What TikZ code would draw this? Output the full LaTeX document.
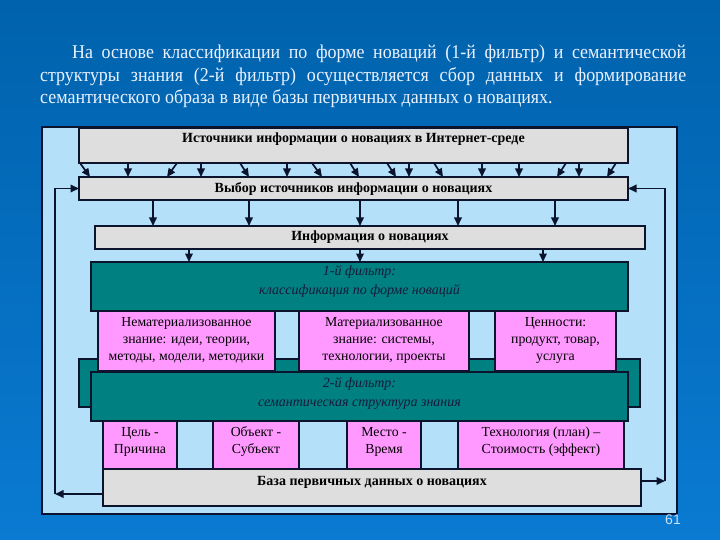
\documentclass[tikz,border=0pt]{standalone}
\usepackage{fontspec}
\setmainfont{Liberation Serif}
\newfontfamily\titlefont[FakeStretch=0.92]{Liberation Serif}
\newfontfamily\numfont{Liberation Sans}
\usetikzlibrary{arrows.meta}
\definecolor{bgtop}{RGB}{0,98,172}
\definecolor{bgbot}{RGB}{10,122,210}
\definecolor{panelblue}{RGB}{180,224,250}
\definecolor{tealc}{RGB}{0,128,128}
\definecolor{pinkc}{RGB}{255,153,255}
\definecolor{grayc}{RGB}{222,222,222}
\definecolor{edgec}{RGB}{12,20,45}
\definecolor{titlec}{RGB}{235,242,255}
\definecolor{numc}{RGB}{200,225,250}
\definecolor{ittext}{RGB}{25,25,60}
\begin{document}
\begin{tikzpicture}[x=1pt,y=-1pt,
  rbox/.style={draw=edgec,line width=1.7pt,anchor=north west,inner sep=0pt,outer sep=0pt},
  gbox/.style={rbox,fill=grayc},
  tbox/.style={rbox,fill=tealc},
  pbox/.style={rbox,fill=pinkc},
  btext/.style={font=\fontsize{14}{16}\selectfont\bfseries,inner sep=0pt},
  itext/.style={font=\fontsize{14}{19}\selectfont\itshape,text=ittext,inner sep=0pt,align=center},
  ptext/.style={font=\fontsize{13.8}{17}\selectfont,inner sep=0pt,align=center},
  arr/.style={draw=edgec,line width=1.7pt,-{Triangle[length=8.5pt,width=7.5pt]}},
  tline/.style={anchor=base west,inner sep=0pt,text=titlec,font=\titlefont\fontsize{19.5}{22.5}\selectfont}
]
\useasboundingbox (0,0) rectangle (720,540);
\shade[top color=bgtop,bottom color=bgbot] (0,0) rectangle (720,540);

% title paragraph
\node[tline] (t1) at (72,59) {\makebox[614pt][s]{На основе классификации по форме новаций (1-й фильтр) и семантической}};
\node[tline] (t2) at (40,81.5) {\makebox[646pt][s]{структуры знания (2-й фильтр) осуществляется сбор данных и формирование}};
\node[tline] (t3) at (40,104) {семантического образа в виде базы первичных данных о новациях.};

% panel
\node[rbox,fill=panelblue,minimum width=635,minimum height=387] (panel) at (42,127) {};

% boxes
\node[gbox,minimum width=549,minimum height=35] (src) at (79,128) {};
\node[btext] (srct) at (353.5,139) {Источники информации о новациях в Интернет-среде};
\node[gbox,minimum width=549,minimum height=23] (sel) at (79,177) {};
\node[btext] (selt) at (353.5,189) {Выбор источников информации о новациях};
\node[gbox,minimum width=550,minimum height=23] (info) at (95,226) {};
\node[btext] (infot) at (370,237.5) {Информация о новациях};

\node[tbox,minimum width=537,minimum height=49] (f1) at (91,262) {};
\node[itext] (f1t) at (359.5,281.5) {1-й фильтр:\\классификация по форме новаций};

\node[tbox,minimum width=561,minimum height=48] (f2b) at (79,359) {};

\node[pbox,minimum width=177,minimum height=60] (pa) at (98,311) {};
\node[ptext] (pat) at (186.5,340) {Нематериализованное\\знание: идеи, теории,\\методы, модели, методики};
\node[pbox,minimum width=170,minimum height=60] (pb) at (299,311) {};
\node[ptext] (pbt) at (384,340) {Материализованное\\знание: системы,\\технологии, проекты};
\node[pbox,minimum width=121,minimum height=60] (pc) at (495,311) {};
\node[ptext] (pct) at (555.5,340) {Ценности:\\продукт, товар,\\услуга};

\node[tbox,minimum width=537,minimum height=49] (f2) at (91,372) {};
\node[itext] (f2t) at (359.5,393.5) {2-й фильтр:\\семантическая структура знания};

\node[pbox,minimum width=74,minimum height=48] (qa) at (103,421) {};
\node[ptext] (qat) at (140,441.5) {Цель -\\Причина};
\node[pbox,minimum width=86,minimum height=48] (qb) at (213,421) {};
\node[ptext] (qbt) at (256,441.5) {Объект -\\Субъект};
\node[pbox,minimum width=74,minimum height=48] (qc) at (347,421) {};
\node[ptext] (qct) at (384,441.5) {Место -\\Время};
\node[pbox,minimum width=166,minimum height=48] (qd) at (458,421) {};
\node[ptext] (qdt) at (541,441.5) {Технология (план) –\\Стоимость (эффект)};

\node[gbox,minimum width=538,minimum height=37] (base) at (103,469) {};
\node[btext] (baset) at (372,482.5) {База первичных данных о новациях};

% arrows src -> sel
\foreach \a/\b in {80/90,128/128,177/167,201/201,240/249,287/287,312/322,350/359,387/396,409/409,434/443,482/482,519/519,566/557,579/579,616/607}
  \draw[arr] (src.south -| \a,0) -- (sel.north -| \b,0);
% sel -> info
\foreach \a in {153,249,360,458,555}
  \draw[arr] (sel.south -| \a,0) -- (info.north -| \a,0);
% info -> f1
\foreach \a in {189,360,543}
  \draw[arr] (info.south -| \a,0) -- (f1.north -| \a,0);

% feedback loops
\coordinate (fbL) at (55,494);
\coordinate (fbR) at (665,481);
\draw[arr] (base.west |- fbL) -- (fbL);
\draw[arr] (fbL) |- (sel.west);
\draw[arr] (base.east |- fbR) -- (fbR);
\draw[arr] (fbR) |- (sel.east);

\node[font=\numfont\fontsize{14}{16}\selectfont,text=numc,inner sep=0pt] (pg) at (673,520) {61};
\end{tikzpicture}
\end{document}
